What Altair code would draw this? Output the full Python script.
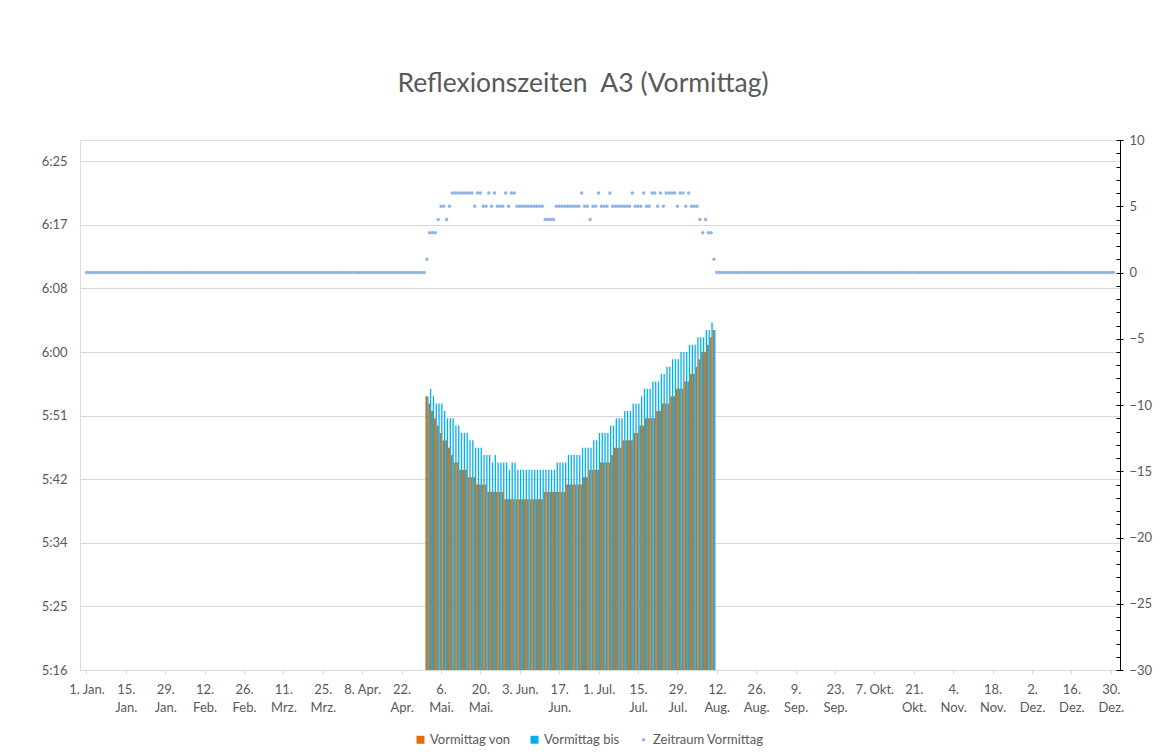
import json
import altair as alt
import pandas as pd

# ---------------- data ----------------
jahr_start = "2024-01-01"
jahr_ende = "2024-12-31"
zeitraum_start = "2024-05-01"

serien = ["Vormittag von", "Vormittag bis", "Zeitraum Vormittag"]
farben = ["#E36C0A", "#00B0F0", "#8EB4E3"]

vormittag_von = [
    "5:54", "5:53", "5:52", "5:51", "5:50", "5:49", "5:48", "5:48", "5:47", "5:46",
    "5:45", "5:45", "5:44", "5:44", "5:44", "5:43", "5:43", "5:43", "5:42", "5:42",
    "5:42", "5:42", "5:41", "5:41", "5:41", "5:41", "5:41", "5:41", "5:40", "5:40",
    "5:40", "5:40", "5:40", "5:40", "5:40", "5:40", "5:40", "5:40", "5:40", "5:40",
    "5:40", "5:40", "5:41", "5:41", "5:41", "5:41", "5:41", "5:41", "5:41", "5:41",
    "5:42", "5:42", "5:42", "5:42", "5:42", "5:42", "5:43", "5:43", "5:44", "5:44",
    "5:44", "5:44", "5:45", "5:45", "5:45", "5:45", "5:46", "5:47", "5:47", "5:47",
    "5:48", "5:48", "5:48", "5:48", "5:49", "5:49", "5:50", "5:50", "5:51", "5:51",
    "5:51", "5:51", "5:52", "5:52", "5:53", "5:53", "5:53", "5:54", "5:54", "5:55",
    "5:55", "5:55", "5:56", "5:56", "5:57", "5:57", "5:58", "5:59", "6:00", "6:00",
    "6:01", "6:02", "6:03",
]

vormittag_bis = [
    "5:54", "5:55", "5:54", "5:53", "5:53", "5:53", "5:52", "5:51", "5:51", "5:51",
    "5:50", "5:50", "5:49", "5:49", "5:49", "5:48", "5:48", "5:47", "5:47", "5:47",
    "5:46", "5:46", "5:46", "5:45", "5:46", "5:45", "5:45", "5:45", "5:45", "5:44",
    "5:45", "5:45", "5:44", "5:44", "5:44", "5:44", "5:44", "5:44", "5:44", "5:44",
    "5:44", "5:44", "5:44", "5:44", "5:44", "5:44", "5:45", "5:45", "5:45", "5:45",
    "5:46", "5:46", "5:46", "5:46", "5:46", "5:47", "5:47", "5:47", "5:47", "5:48",
    "5:48", "5:49", "5:49", "5:49", "5:49", "5:50", "5:50", "5:51", "5:51", "5:51",
    "5:52", "5:52", "5:52", "5:53", "5:53", "5:53", "5:54", "5:55", "5:55", "5:55",
    "5:56", "5:56", "5:56", "5:57", "5:57", "5:58", "5:58", "5:59", "5:59", "5:59",
    "6:00", "6:00", "6:00", "6:01", "6:01", "6:01", "6:02", "6:02", "6:02", "6:03",
    "6:03", "6:04", "6:03",
]

zeitraum_vormittag = [
    1, 3, 3, 3, 4, 5, 5, 4, 5, 6,
    6, 6, 6, 6, 6, 6, 6, 5, 6, 6,
    5, 5, 6, 5, 6, 5, 5, 5, 6, 5,
    6, 6, 5, 5, 5, 5, 5, 5, 5, 5,
    5, 5, 4, 4, 4, 4, 5, 5, 5, 5,
    5, 5, 5, 5, 5, 6, 5, 5, 4, 5,
    5, 6, 5, 5, 5, 6, 5, 5, 5, 5,
    5, 5, 5, 6, 5, 5, 5, 6, 5, 5,
    6, 6, 5, 6, 5, 6, 6, 6, 6, 5,
    6, 6, 5, 6, 5, 5, 5, 4, 3, 4,
    3, 3, 1,
]

x_tick_labels = [
    "1. Jan.", "15.|Jan.", "29.|Jan.", "12.|Feb.", "26.|Feb.", "11.|Mrz.", "25.|Mrz.",
    "8. Apr.", "22.|Apr.", "6.|Mai.", "20.|Mai.", "3. Jun.", "17.|Jun.", "1. Jul.",
    "15.|Jul.", "29.|Jul.", "12.|Aug.", "26.|Aug.", "9.|Sep.", "23.|Sep.", "7. Okt.",
    "21.|Okt.", "4.|Nov.", "18.|Nov.", "2.|Dez.", "16.|Dez.", "30.|Dez.",
]
x_tick_step = 14

# left axis: Excel time axis 0.22 .. 0.27 day, major unit 0.006 day (in minutes)
y_left_min = 316.8
y_left_max = 388.8
y_left_step = 8.64
# right axis
y_right_min = -30
y_right_max = 10
y_right_step = 5

# ---------------- build tables ----------------
def to_minutes(s):
    h, m = s.split(":")
    return int(h) * 60 + int(m)

tage = pd.date_range(jahr_start, jahr_ende, freq="D")
start_idx = (pd.Timestamp(zeitraum_start) - pd.Timestamp(jahr_start)).days

rows = []
for i, (v, b) in enumerate(zip(vormittag_von, vormittag_bis)):
    tag = start_idx + i
    rows.append({"tag": tag, "serie": serien[0], "minuten": to_minutes(v), "zeit": v})
    rows.append({"tag": tag, "serie": serien[1], "minuten": to_minutes(b), "zeit": b})
bar_df = pd.DataFrame(rows)

zeit_full = [0] * len(tage)
for i, z in enumerate(zeitraum_vormittag):
    zeit_full[start_idx + i] = z
pt_df = pd.DataFrame({"tag": list(range(len(tage))), "serie": serien[2], "wert": zeit_full})

# ---------------- encodings ----------------
FONT = "Lato"
TXT = "#595959"
GRID = "#D9D9D9"

x_label_expr = "split(" + json.dumps(x_tick_labels) + "[round(datum.value / %d)], '|')" % x_tick_step
x_enc = alt.X(
    "tag:Q",
    scale=alt.Scale(domain=[-0.5, len(tage) - 0.5], nice=False, zero=False),
    axis=alt.Axis(
        values=list(range(0, len(tage) - 1, x_tick_step)),
        labelExpr=x_label_expr,
        labelColor=TXT, labelFont=FONT, labelFontSize=13, labelLineHeight=18,
        labelBaseline="top", labelPadding=9, labelAngle=0, labelOverlap=False,
        labelFlush=False, tickSize=4, tickColor=GRID, domainColor=GRID,
        grid=False, title=None,
    ),
)

left_vals = [round(y_left_min + y_left_step * i, 4) for i in range(9)]
y_left_expr = ("floor(datum.value/60) + ':' + (floor(datum.value%60) < 10 ? '0' : '') "
               "+ floor(datum.value%60)")
y_bar = alt.Y(
    "minuten:Q",
    scale=alt.Scale(domain=[y_left_min, y_left_max], nice=False, zero=False),
    axis=alt.Axis(
        orient="left", values=left_vals, labelExpr=y_left_expr, domain=False, ticks=False,
        grid=True, gridColor=GRID, gridWidth=1, labelColor=TXT, labelFont=FONT,
        labelFontSize=13, labelPadding=13, title=None,
    ),
)

legend = alt.Legend(
    title=None, orient="none", legendX=334, legendY=593, direction="horizontal",
    labelFont=FONT, labelFontSize=13, labelColor=TXT, symbolStrokeWidth=0,
    columnPadding=17, labelOffset=3, padding=0,
)
color_enc = alt.Color("serie:N", scale=alt.Scale(domain=serien, range=farben), legend=legend)

von_bars = (
    alt.Chart(bar_df)
    .transform_filter(alt.datum.serie == serien[0])
    .mark_bar(size=2.0, xOffset=-0.5, orient="vertical")
    .encode(x=x_enc, y=y_bar, y2=alt.datum(y_left_min), color=color_enc,
            tooltip=["serie:N", "zeit:N"])
)
bis_bars = (
    alt.Chart(bar_df)
    .transform_filter(alt.datum.serie == serien[1])
    .mark_bar(size=1.3, xOffset=0.85, orient="vertical")
    .encode(x=x_enc, y=y_bar, y2=alt.datum(y_left_min), color=color_enc,
            tooltip=["serie:N", "zeit:N"])
)
bars = alt.layer(von_bars, bis_bars)

right_scale = alt.Scale(domain=[y_right_min, y_right_max], nice=False, zero=False)
points = (
    alt.Chart(pt_df)
    .mark_point(filled=True, opacity=1, strokeWidth=0)
    .encode(
        x=x_enc,
        y=alt.Y(
            "wert:Q", scale=right_scale,
            axis=alt.Axis(
                orient="right", values=list(range(y_right_min, y_right_max + 1, y_right_step)),
                domain=True, domainColor="#000000", domainWidth=1, ticks=False, grid=False,
                labelColor=TXT, labelFont=FONT, labelFontSize=13, labelPadding=9, title=None,
            ),
        ),
        color=color_enc,
        shape=alt.Shape("serie:N", scale=alt.Scale(domain=serien, range=["square", "square", "circle"]),
                        legend=legend),
        size=alt.Size("serie:N", scale=alt.Scale(type="ordinal", domain=serien, range=[64, 64, 12]),
                      legend=legend),
    )
)

tick_marks = (
    alt.Chart(pt_df)
    .mark_point(opacity=0)
    .encode(
        x=x_enc,
        y=alt.Y(
            "wert:Q", scale=right_scale,
            axis=alt.Axis(
                orient="right", offset=-4, values=list(range(y_right_min, y_right_max + 1)),
                domain=False, labels=False, grid=False, ticks=True, tickColor="#000000",
                tickWidth=1,
                tickSize={"condition": {"test": "datum.value % 5 === 0", "value": 7}, "value": 4},
                title=None,
            ),
        ),
    )
)

chart = (
    alt.layer(bars, points, tick_marks)
    .resolve_scale(y="independent")
    .properties(
        width=1040,
        height=530,
        title=alt.TitleParams(
            "Reflexionszeiten \u00a0A3 (Vormittag)", font=FONT, fontSize=26.5, fontWeight="normal",
            color=TXT, anchor="middle", dx=-17, offset=37,
        ),
        autosize=alt.AutoSizeParams(type="none"),
        padding={"left": 72, "top": 132, "right": 33, "bottom": 78},
    )
    .configure_view(stroke=None)
    .configure(font=FONT, background="white")
)

chart.save("out.html", embed_options={"renderer": "svg", "actions": False})
